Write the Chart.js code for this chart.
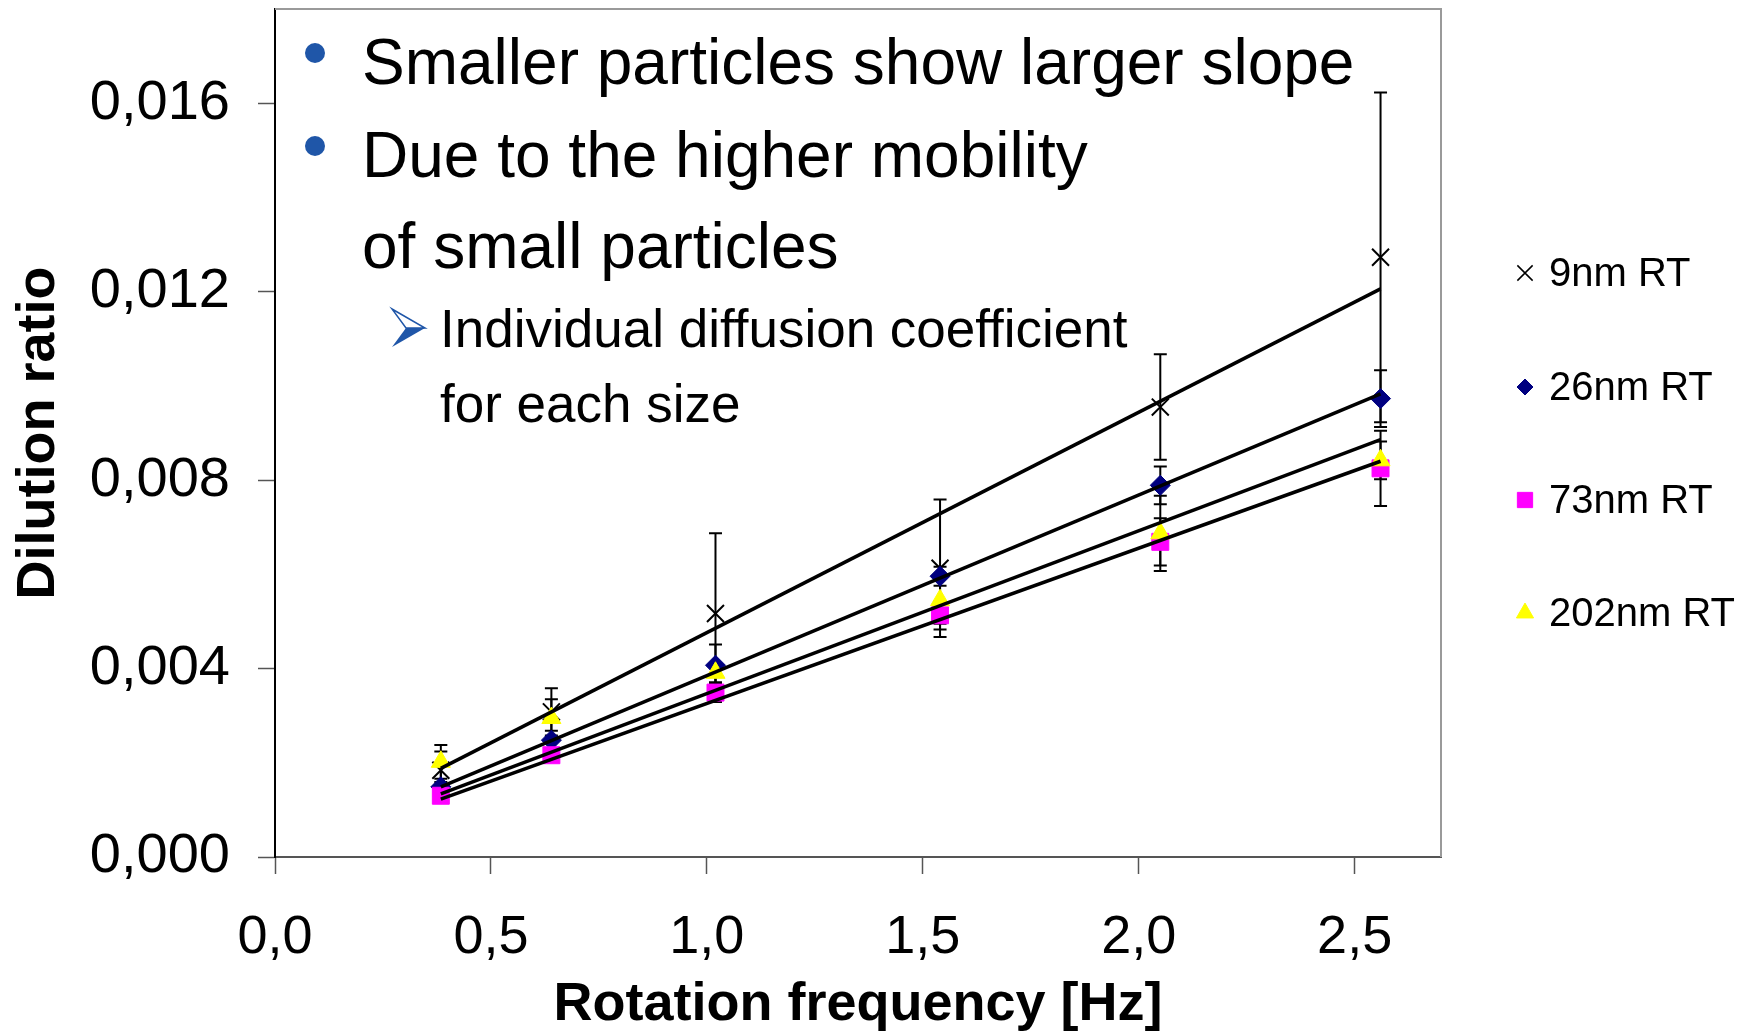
<!DOCTYPE html>
<html>
<head>
<meta charset="utf-8">
<title>Dilution ratio vs rotation frequency</title>
<script src="https://cdn.jsdelivr.net/npm/chart.js@4.4.0/dist/chart.umd.min.js"></script>
<style>
  html, body { margin: 0; padding: 0; background: #fff; }
  #wrap { width: 1745px; height: 1032px; }
</style>
</head>
<body>
<div id="wrap"><canvas id="chart" width="1745" height="1032"></canvas></div>
<script>
// measured points (rotation frequency in Hz)
const freq = [0.384, 0.64, 1.02, 1.54, 2.05, 2.56];

const ratio_9nm = [0.00184, 0.00308, 0.00517, 0.00613, 0.00955, 0.01273];
const ratio_26nm = [0.00149, 0.00248, 0.00407, 0.00596, 0.00789, 0.00973];
const ratio_73nm = [0.00130, 0.00216, 0.00349, 0.00513, 0.00669, 0.00825];
const ratio_202nm = [0.00202, 0.00295, 0.00391, 0.00545, 0.00687, 0.00842];

const err_9nm = [0.0004, 0.0005, 0.0017, 0.00146, 0.00112, 0.0035];
const err_26nm = [0.0001, 0.0002, 0.00044, 0.0002, 0.0004, 0.0006];
const err_73nm = [0.0001, 0.0001, 0.0002, 0.0003, 0.0005, 0.0008];
const err_202nm = [0.00036, 0.0004, 0.0002, 0.0005, 0.0008, 0.0004];

// trendlines (through origin), read at both ends
const fit_x = [0.384, 2.56];
const fit_9nm = [0.00188, 0.01206];
const fit_26nm = [0.00149, 0.00983];
const fit_202nm = [0.00134, 0.00886];
const fit_73nm = [0.00123, 0.00840];

const x_ticks = [0, 0.5, 1.0, 1.5, 2.0, 2.5];
const y_ticks = [0, 0.004, 0.008, 0.012, 0.016];

const series_labels = ['9nm RT', '26nm RT', '73nm RT', '202nm RT'];

const FONT = "'Liberation Sans', Arial, Helvetica, sans-serif";

function points(xs, ys) {
  return xs.map((x, i) => ({ x: x, y: ys[i] }));
}

function fitLine(ys) {
  return {
    type: 'line',
    data: points(fit_x, ys),
    borderColor: '#000',
    borderWidth: 3.5,
    pointRadius: 0,
    fill: false,
    order: 0
  };
}

const datasets = [
  {
    label: series_labels[0],
    data: points(freq, ratio_9nm),
    errors: err_9nm,
    pointStyle: 'crossRot',
    pointRadius: 12,
    borderColor: '#000',
    backgroundColor: '#000',
    borderWidth: 2,
    order: 4
  },
  {
    label: series_labels[1],
    data: points(freq, ratio_26nm),
    errors: err_26nm,
    pointStyle: 'rectRot',
    pointRadius: 10,
    borderColor: '#000080',
    backgroundColor: '#000080',
    borderWidth: 1,
    order: 3
  },
  {
    label: series_labels[2],
    data: points(freq, ratio_73nm),
    errors: err_73nm,
    pointStyle: 'rect',
    pointRadius: 12,
    borderColor: '#ff00ff',
    backgroundColor: '#ff00ff',
    borderWidth: 1,
    order: 2
  },
  {
    label: series_labels[3],
    data: points(freq, ratio_202nm),
    errors: err_202nm,
    pointStyle: 'triangle',
    pointRadius: 11,
    borderColor: '#ffff00',
    backgroundColor: '#ffff00',
    borderWidth: 1,
    order: 1
  },
  fitLine(fit_9nm),
  fitLine(fit_26nm),
  fitLine(fit_202nm),
  fitLine(fit_73nm)
];

// error bars, frame of the plot area
const errorBars = {
  id: 'errorBars',
  beforeDatasetsDraw(chart) {
    const { ctx, chartArea: a, scales: { x, y } } = chart;
    ctx.save();
    ctx.strokeStyle = '#9a9a9a';
    ctx.lineWidth = 2;
    ctx.beginPath();
    ctx.moveTo(a.left, a.top);
    ctx.lineTo(a.right, a.top);
    ctx.lineTo(a.right, a.bottom);
    ctx.stroke();

    ctx.strokeStyle = '#000';
    ctx.lineWidth = 2;
    chart.data.datasets.forEach(ds => {
      if (!ds.errors) return;
      ds.data.forEach((p, i) => {
        const e = ds.errors[i];
        const px = x.getPixelForValue(p.x);
        const top = y.getPixelForValue(p.y + e);
        const bot = y.getPixelForValue(p.y - e);
        ctx.beginPath();
        ctx.moveTo(px, top);
        ctx.lineTo(px, bot);
        ctx.moveTo(px - 6.5, top);
        ctx.lineTo(px + 6.5, top);
        ctx.moveTo(px - 6.5, bot);
        ctx.lineTo(px + 6.5, bot);
        ctx.stroke();
      });
    });
    ctx.restore();
  }
};

// bullet text and the legend on the right
const notes = {
  id: 'notes',
  afterDraw(chart) {
    const ctx = chart.ctx;
    ctx.save();
    ctx.fillStyle = '#1f56a8';
    [53, 146].forEach(cy => {
      ctx.beginPath();
      ctx.arc(315, cy, 10, 0, Math.PI * 2);
      ctx.fill();
    });

    ctx.fillStyle = '#000';
    ctx.textAlign = 'left';
    ctx.textBaseline = 'alphabetic';
    ctx.font = '64px ' + FONT;
    ctx.fillText('Smaller particles show larger slope', 362, 84);
    ctx.fillText('Due to the higher mobility', 362, 177);
    ctx.fillText('of small particles', 362, 268);

    // arrow bullet
    ctx.strokeStyle = '#1f56a8';
    ctx.fillStyle = '#1f56a8';
    ctx.lineWidth = 1.5;
    ctx.beginPath();
    ctx.moveTo(392, 309);
    ctx.lineTo(425, 328);
    ctx.lineTo(406, 328);
    ctx.closePath();
    ctx.stroke();
    ctx.beginPath();
    ctx.moveTo(406, 328);
    ctx.lineTo(425, 328);
    ctx.lineTo(392, 347);
    ctx.closePath();
    ctx.fill();

    ctx.fillStyle = '#000';
    ctx.font = '53px ' + FONT;
    ctx.fillText('Individual diffusion coefficient', 440, 347);
    ctx.fillText('for each size', 440, 422);

    // legend
    const rows = [273, 387, 500, 613];
    ctx.font = '40px ' + FONT;
    ctx.textBaseline = 'middle';
    chart.data.datasets.slice(0, 4).forEach((ds, i) => {
      const opts = {
        pointStyle: ds.pointStyle,
        radius: ds.pointStyle === 'rectRot' ? 8 : ds.pointRadius * 0.9,
        rotation: 0,
        borderWidth: ds.pointStyle === 'crossRot' ? 1.5 : 1
      };
      ctx.fillStyle = ds.backgroundColor;
      ctx.strokeStyle = ds.borderColor;
      ctx.lineWidth = opts.borderWidth;
      Chart.helpers.drawPoint(ctx, opts, 1525, rows[i]);
      ctx.fillStyle = '#000';
      ctx.fillText(ds.label, 1549, rows[i] + 2);
    });
    ctx.restore();
  }
};

new Chart(document.getElementById('chart'), {
  type: 'scatter',
  data: { datasets: datasets },
  plugins: [errorBars, notes],
  options: {
    responsive: false,
    animation: false,
    layout: { autoPadding: false, padding: { left: 0, top: 9, right: 304, bottom: 0 } },
    plugins: {
      legend: { display: false },
      tooltip: { enabled: false }
    },
    scales: {
      x: {
        type: 'linear',
        min: 0,
        max: 2.7,
        afterFit: s => { s.height = 175; s.paddingLeft = 0; s.paddingRight = 0; },
        afterBuildTicks: s => { s.ticks = x_ticks.map(v => ({ value: v })); },
        ticks: {
          color: '#000',
          padding: 32,
          maxRotation: 0,
          font: { family: FONT, size: 54 },
          callback: v => v.toFixed(1).replace('.', ',')
        },
        grid: {
          drawOnChartArea: false,
          drawTicks: true,
          tickLength: 17,
          tickColor: '#555',
          tickWidth: 1.5
        },
        border: { display: true, color: '#555', width: 2 },
        title: {
          display: true,
          text: 'Rotation frequency [Hz]',
          color: '#000',
          font: { family: FONT, size: 54, weight: 'bold', lineHeight: 1 },
          padding: { top: 0, bottom: 0 }
        }
      },
      y: {
        type: 'linear',
        min: 0,
        max: 0.018,
        afterFit: s => { s.width = 275; s.paddingTop = 0; s.paddingBottom = 0; },
        afterBuildTicks: s => { s.ticks = y_ticks.map(v => ({ value: v })); },
        ticks: {
          color: '#000',
          padding: 28,
          font: { family: FONT, size: 56 },
          callback: v => v.toFixed(3).replace('.', ',')
        },
        grid: {
          drawOnChartArea: false,
          drawTicks: true,
          tickLength: 17,
          tickColor: '#555',
          tickWidth: 1.5
        },
        border: { display: true, color: '#000', width: 2 },
        title: {
          display: true,
          text: 'Dilution ratio',
          color: '#000',
          font: { family: FONT, size: 54, weight: 'bold', lineHeight: 1 },
          padding: { top: 12, bottom: 0 }
        }
      }
    }
  }
});
</script>
</body>
</html>
